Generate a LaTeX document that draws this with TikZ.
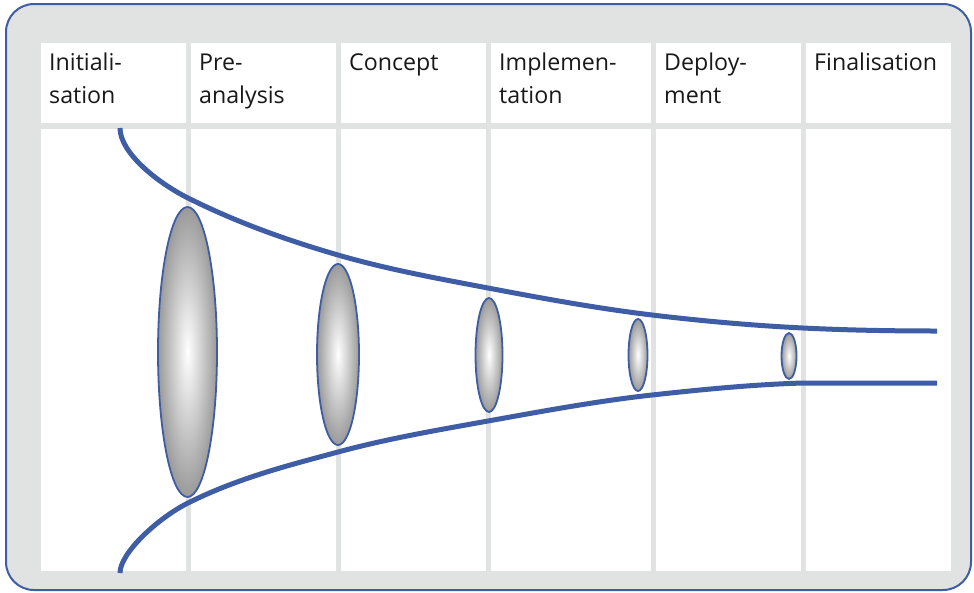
\documentclass[tikz,border=0pt]{standalone}
\usepackage{fontspec}
\setmainfont{Open Sans}
\usetikzlibrary{shapes.geometric}
\definecolor{frameblue}{HTML}{3E5DA5}
\definecolor{panelgray}{HTML}{E1E2E2}
\definecolor{lensgray}{HTML}{9A9A9A}
\tikzset{
  cell/.style={fill=white, draw=none},
  % multi-line nodes sit on the baseline of their last line
  phase/.style={anchor=base west, align=left, inner sep=0pt,
    font=\fontsize{23.2}{33}\selectfont, text=black!90},
  lens/.style={ellipse, draw=frameblue, line width=1.8pt, inner sep=0pt,
    inner color=white, outer color=lensgray},
  funnel/.style={draw=frameblue, line width=5pt, line cap=butt}
}
\begin{document}
\begin{tikzpicture}[x=1pt, y=-1pt]
  \useasboundingbox (0,0) rectangle (974,592);
  % outer panel
  \draw[fill=panelgray, draw=frameblue, line width=2pt, rounded corners=28pt]
    (6,4) rectangle (971,590);
  % header cells and body cells of the six columns
  \foreach \l/\r in {41/186, 191/336, 341/486, 491/651, 656/801, 806/951} {
    \fill[cell] (\l,43) rectangle (\r,123);
    \fill[cell] (\l,129) rectangle (\r,571);
  }
  % phase names
  \node[phase] (p1) at (49,103)  {Initiali-\\sation};
  \node[phase] (p2) at (199,103) {Pre-\\analysis};
  \node[phase] (p3) at (349,70)  {Concept};
  \node[phase] (p4) at (499,103) {Implemen-\\tation};
  \node[phase] (p5) at (664,103) {Deploy-\\ment};
  \node[phase] (p6) at (814,70)  {Finalisation};
  % upper funnel edge
  \draw[funnel] (120,128) .. controls (120,153) and (158,183) .. (188,198)
    .. controls (238,223) and (288,240.5) .. (338,255)
    .. controls (388,269.5) and (438,278.5) .. (488,288)
    .. controls (542.7,298.4) and (597.3,308.4) .. (652,315)
    .. controls (702.3,321) and (752.7,325.5) .. (803,328)
    .. controls (847.7,330.2) and (892.3,331) .. (937,331);
  % lower funnel edge
  \draw[funnel] (120,573) .. controls (120,553) and (158,518) .. (188,503)
    .. controls (238,478) and (288,465.5) .. (338,452)
    .. controls (388,438.5) and (438,430) .. (488,421)
    .. controls (542.7,411.2) and (597.3,401) .. (652,395)
    .. controls (702.3,389.5) and (752.7,384.5) .. (803,383)
    .. controls (847.7,383) and (892.3,383) .. (937,383);
  % shrinking lenses
  \node[lens, minimum width=59pt, minimum height=290pt] (e1) at (187.5,352) {};
  \node[lens, minimum width=42pt, minimum height=181pt] (e2) at (338,354.5) {};
  \node[lens, minimum width=27pt, minimum height=114pt] (e3) at (489,355) {};
  \node[lens, minimum width=19pt, minimum height=72pt]  (e4) at (638,355) {};
  \node[lens, minimum width=15pt, minimum height=46pt]  (e5) at (789,356) {};
\end{tikzpicture}
\end{document}
